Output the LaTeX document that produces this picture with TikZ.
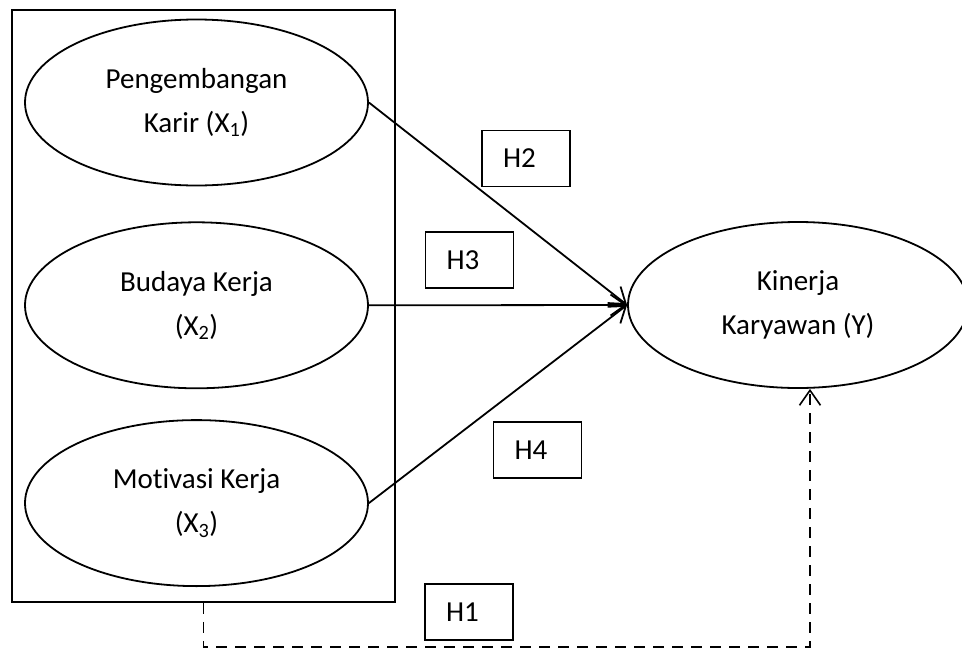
\documentclass[tikz,border=0pt]{standalone}
\usepackage{fontspec}
\setmainfont[Ligatures=NoCommon]{Carlito}
\usetikzlibrary{arrows.meta, positioning, shapes.geometric}

\begin{document}
\begin{tikzpicture}[
        x=1pt, y=-1pt,
        every node/.style={font=\fontsize{29}{44}\selectfont, align=center},
        latent/.style={ellipse, draw, line width=1.8pt, minimum width=343pt, minimum height=166pt, inner sep=0pt},
        hyp/.style={draw, line width=1.2pt, minimum height=56pt, text width=46pt, inner xsep=21pt, align=left},
        jalur/.style={line width=1.8pt, -{Straight Barb[length=15pt, width=21pt]}}
    ]
        \useasboundingbox (0,0) rectangle (962,648);

        % Vẽ khung và các biến độc lập
        \node [draw, line width=1.8pt, minimum width=383pt, minimum height=592pt] (khung) at (203.5,306) {};
        \node [latent] (X1) at (196.5,102.5) {Pengembangan\\Karir (X\textsubscript{1})};
        \node [latent, below=35pt of X1] (X2) {Budaya Kerja\\(X\textsubscript{2})};
        \node [latent, below=30pt of X2] (X3) {Motivasi Kerja\\(X\textsubscript{3})};

        % Biến phụ thuộc
        \node [latent, minimum width=340pt] (Y) at (798,305) {Kinerja\\Karyawan (Y)};

        % Các giả thuyết
        \node [hyp] (H1) at (469,612) {H1};
        \node [hyp] (H2) at (526,158.5) {H2};
        \node [hyp] (H3) at (469.5,260) {H3};
        \node [hyp] (H4) at (537.5,450) {H4};

        % Các mũi tên
        \draw[jalur] (X1.east) -- (Y.west);
        \draw[jalur] (X2.east) -- (Y.west);
        \draw[jalur] (X3.east) -- (Y.west);
        \coordinate (goc) at (810,647);
        \draw[jalur, line width=1.6pt, dash pattern=on 11pt off 8pt] (khung.south) |- (goc) -- (goc |- Y.south);
    \end{tikzpicture}
\end{document}
